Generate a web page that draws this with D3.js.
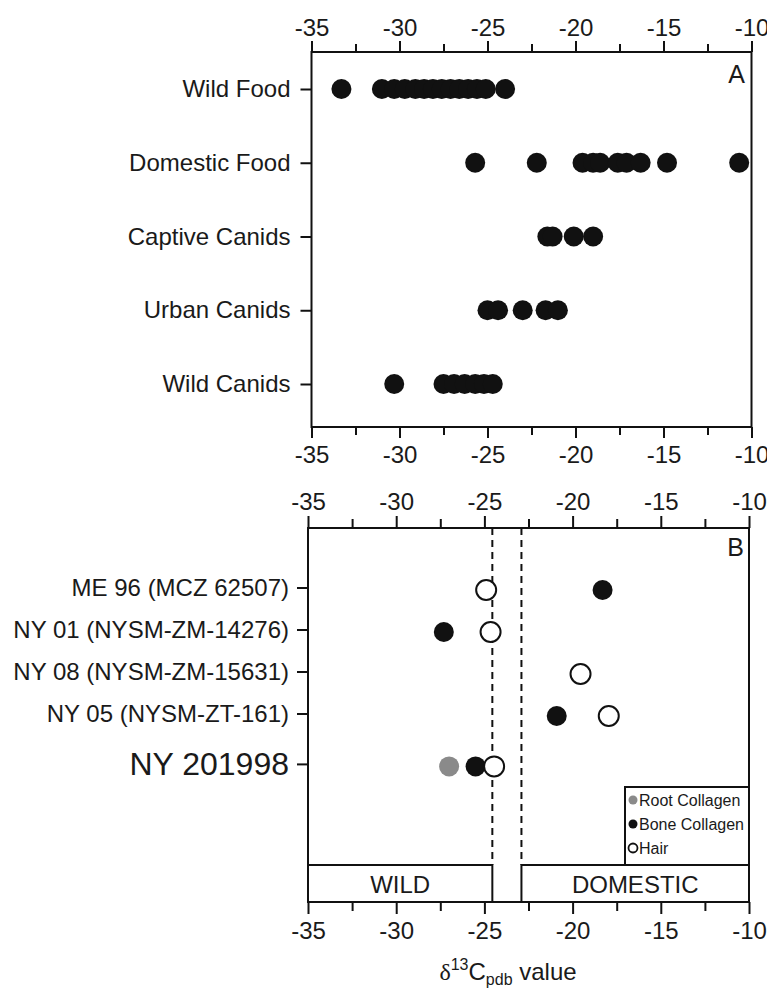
<!DOCTYPE html>
<html>
<head>
<meta charset="utf-8">
<script src="https://cdn.jsdelivr.net/npm/d3@7"></script>
<style>
  html, body { margin: 0; padding: 0; background: #fff; }
  svg { display: block; }
  text { font-family: "Liberation Sans", Arial, sans-serif; fill: #1a1a1a; }
</style>
</head>
<body>
<svg id="chart" width="767" height="989"></svg>
<script>
// ---------------- DATA ----------------
const xTicks = [-35, -30, -25, -20, -15, -10];
const xMinorTicks = [-32.5, -27.5, -22.5, -17.5, -12.5];

// Panel A
const groupsA = ["Wild Food", "Domestic Food", "Captive Canids", "Urban Canids", "Wild Canids"];
const wildFood = [-33.3, -31.0, -30.3, -29.7, -29.1, -28.6, -28.1, -27.6, -27.1, -26.6, -26.1, -25.6, -25.1, -24.0];
const domesticFood = [-25.7, -22.2, -19.6, -19.0, -18.6, -17.6, -17.1, -16.3, -14.8, -10.7];
const captiveCanids = [-21.6, -21.3, -20.1, -19.0];
const urbanCanids = [-25.0, -24.4, -23.0, -21.7, -21.0];
const wildCanids = [-30.3, -27.5, -26.9, -26.3, -25.7, -25.2, -24.7];

// Panel B
const samplesB = ["ME 96 (MCZ 62507)", "NY 01 (NYSM-ZM-14276)", "NY 08 (NYSM-ZM-15631)", "NY 05 (NYSM-ZT-161)", "NY 201998"];
const rootCollagen = [null, null, null, null, -27.0];
const boneCollagen = [-18.3, -27.3, null, -20.9, -25.5];
const hair = [-24.9, -24.65, -19.55, -17.95, -24.45];
const thresholds = [-24.55, -22.9]; // wild | domestic boundaries
const zoneLabels = ["WILD", "DOMESTIC"];
const legendLabels = ["Root Collagen", "Bone Collagen", "Hair"];

// ---------------- DRAW ----------------
const svg = d3.select("#chart");
const ink = "#111";
const gray = "#8a8a8a";
const R = 10;
const FS = 24;
const fmt = d => String(d); // plain hyphen-minus as in the original

function styleAxis(g, fontSize) {
  g.select(".domain").remove();
  g.selectAll(".tick line").attr("stroke", ink).attr("stroke-width", 2);
  g.selectAll(".tick text").attr("font-size", fontSize).attr("fill", "#1a1a1a")
    .attr("font-family", '"Liberation Sans", Arial, sans-serif');
}

function xAxes(x, top, bottom, padTop, padBottom, majorLen, minorLen) {
  const gt = svg.append("g").attr("transform", `translate(0,${top})`)
    .call(d3.axisTop(x).tickValues(xTicks).tickFormat(fmt).tickSize(majorLen).tickPadding(padTop).tickSizeOuter(0));
  styleAxis(gt, FS);
  const gtm = svg.append("g").attr("transform", `translate(0,${top})`)
    .call(d3.axisTop(x).tickValues(xMinorTicks).tickSize(minorLen).tickFormat("").tickSizeOuter(0));
  styleAxis(gtm, FS);
  const gb = svg.append("g").attr("transform", `translate(0,${bottom})`)
    .call(d3.axisBottom(x).tickValues(xTicks).tickFormat(fmt).tickSize(majorLen).tickPadding(padBottom).tickSizeOuter(0));
  styleAxis(gb, FS);
  const gbm = svg.append("g").attr("transform", `translate(0,${bottom})`)
    .call(d3.axisBottom(x).tickValues(xMinorTicks).tickSize(minorLen).tickFormat("").tickSizeOuter(0));
  styleAxis(gbm, FS);
}

// ----- Panel A -----
const A = { left: 311.5, right: 751.5, top: 52, bottom: 427 };
const xA = d3.scaleLinear().domain([-35, -10]).range([A.left, A.right]);
const yA = d3.scalePoint().domain(groupsA).range([89, 384]);
const seriesA = [wildFood, domesticFood, captiveCanids, urbanCanids, wildCanids];
const ptsA = [];
seriesA.forEach((arr, i) => arr.forEach(v => ptsA.push({ g: groupsA[i], v })));

svg.append("rect").attr("x", A.left).attr("y", A.top)
  .attr("width", A.right - A.left).attr("height", A.bottom - A.top)
  .attr("fill", "none").attr("stroke", ink).attr("stroke-width", 2);

xAxes(xA, A.top, A.bottom, 5, 8, 11, 8);

const gyA = svg.append("g").attr("transform", `translate(${A.left},0)`)
  .call(d3.axisLeft(yA).tickSize(11).tickPadding(10).tickSizeOuter(0));
styleAxis(gyA, FS);

svg.append("g").selectAll("circle").data(ptsA).join("circle")
  .attr("cx", d => xA(d.v)).attr("cy", d => yA(d.g)).attr("r", R).attr("fill", ink);

svg.append("text").attr("x", 745).attr("y", 83).attr("text-anchor", "end")
  .attr("font-size", 25).text("A");

// ----- Panel B -----
const B = { left: 308, right: 749, top: 528, bottom: 902, zoneTop: 865 };
const xB = d3.scaleLinear().domain([-35, -10]).range([B.left, B.right]);
// last (highlighted) sample sits a bit further apart
const rowPos = samplesB.map((s, i) => i + (i === samplesB.length - 1 ? 0.2 : 0));
const yIdx = d3.scaleLinear().domain([0, 3]).range([588, 714]);
const yB = s => yIdx(rowPos[samplesB.indexOf(s)]);

svg.append("rect").attr("x", B.left).attr("y", B.top)
  .attr("width", B.right - B.left).attr("height", B.bottom - B.top)
  .attr("fill", "none").attr("stroke", ink).attr("stroke-width", 2);

xAxes(xB, B.top, B.bottom, 6, 8, 12, 9);

// left category ticks for B
const gyB = svg.append("g");
samplesB.forEach((s, i) => {
  const y = yB(s);
  gyB.append("line").attr("x1", B.left - 11).attr("x2", B.left).attr("y1", y).attr("y2", y)
    .attr("stroke", ink).attr("stroke-width", 2);
  gyB.append("text").attr("x", B.left - 19).attr("y", y).attr("dy", "0.34em")
    .attr("text-anchor", "end").attr("font-size", i === samplesB.length - 1 ? 32 : FS).text(s);
});

// dashed thresholds
svg.append("g").selectAll("line").data(thresholds).join("line")
  .attr("x1", d => xB(d)).attr("x2", d => xB(d))
  .attr("y1", B.top).attr("y2", B.zoneTop)
  .attr("stroke", ink).attr("stroke-width", 2).attr("stroke-dasharray", "7,5");

// zone boxes
const zones = [
  { label: zoneLabels[0], x0: -35, x1: thresholds[0] },
  { label: zoneLabels[1], x0: thresholds[1], x1: -10 }
];
const gz = svg.append("g");
zones.forEach(z => {
  gz.append("rect").attr("x", xB(z.x0)).attr("y", B.zoneTop)
    .attr("width", xB(z.x1) - xB(z.x0)).attr("height", B.bottom - B.zoneTop)
    .attr("fill", "#fff").attr("stroke", ink).attr("stroke-width", 2);
  gz.append("text").attr("x", (xB(z.x0) + xB(z.x1)) / 2).attr("y", 893)
    .attr("text-anchor", "middle").attr("font-size", FS).text(z.label);
});

// points B
const ptsB = [];
samplesB.forEach((s, i) => {
  if (rootCollagen[i] != null) ptsB.push({ s, v: rootCollagen[i], t: "root" });
  if (boneCollagen[i] != null) ptsB.push({ s, v: boneCollagen[i], t: "bone" });
  if (hair[i] != null) ptsB.push({ s, v: hair[i], t: "hair" });
});
svg.append("g").selectAll("circle").data(ptsB).join("circle")
  .attr("cx", d => xB(d.v)).attr("cy", d => yB(d.s) + 2).attr("r", R)
  .attr("fill", d => d.t === "root" ? gray : d.t === "bone" ? ink : "#fff")
  .attr("stroke", d => d.t === "hair" ? ink : "none")
  .attr("stroke-width", 2);

svg.append("text").attr("x", 744).attr("y", 556).attr("text-anchor", "end")
  .attr("font-size", 25).text("B");

// legend
const gl = svg.append("g");
gl.append("rect").attr("x", 625).attr("y", 787).attr("width", B.right - 625).attr("height", B.zoneTop - 787)
  .attr("fill", "#fff").attr("stroke", ink).attr("stroke-width", 2);
const legStyles = [
  { fill: gray, stroke: "none" },
  { fill: ink, stroke: "none" },
  { fill: "#fff", stroke: ink }
];
legendLabels.forEach((l, i) => {
  const y = 800 + i * 24;
  gl.append("circle").attr("cx", 633).attr("cy", y).attr("r", 4.5)
    .attr("fill", legStyles[i].fill).attr("stroke", legStyles[i].stroke).attr("stroke-width", 1.8);
  gl.append("text").attr("x", 639).attr("y", y).attr("dy", "0.36em")
    .attr("font-size", 16).text(l);
});

// x-axis title
const title = svg.append("text").attr("x", 508).attr("y", 980).attr("text-anchor", "middle").attr("font-size", 24);
title.append("tspan").attr("font-family", '"Liberation Serif", "Times New Roman", serif').text("δ");
title.append("tspan").attr("font-size", 16).attr("dy", -10).text("13");
title.append("tspan").attr("dy", 10).text("C");
title.append("tspan").attr("font-size", 16).attr("dy", 5).text("pdb");
title.append("tspan").attr("dy", -5).text(" value");
</script>
</body>
</html>
